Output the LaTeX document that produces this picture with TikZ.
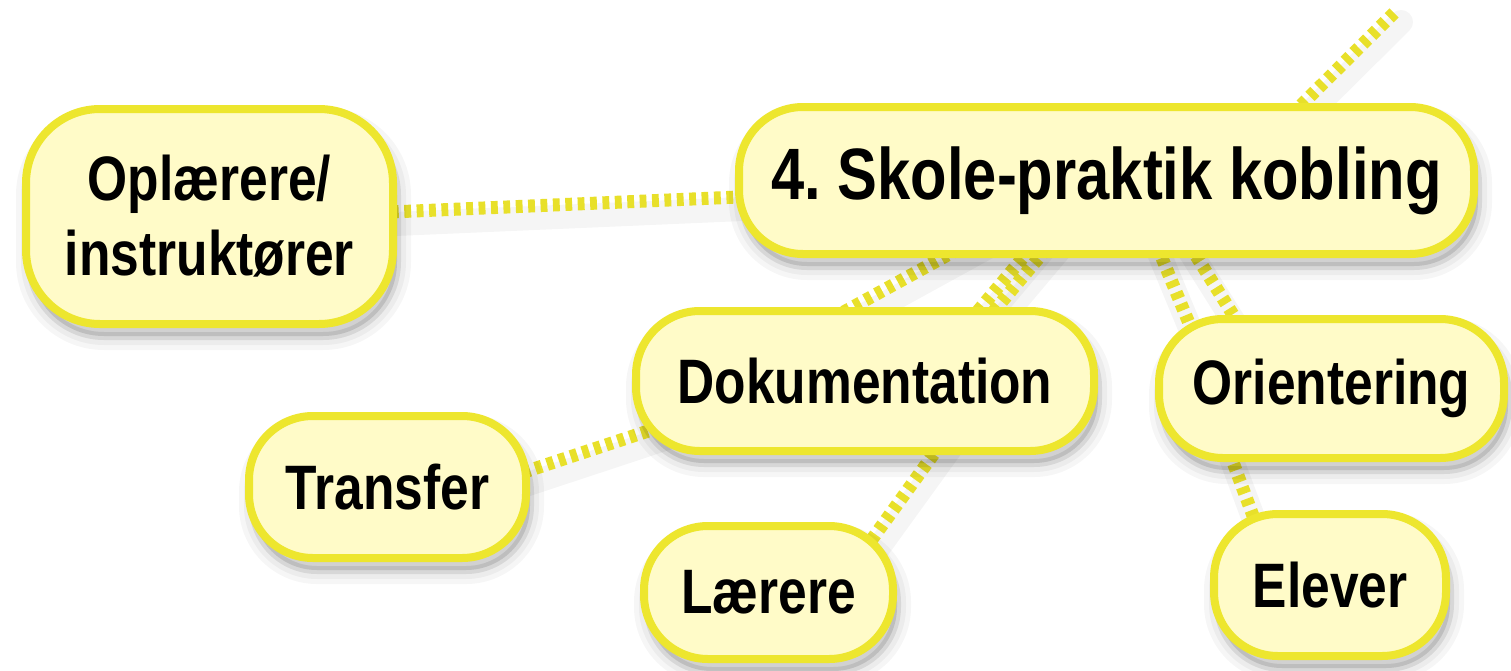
\documentclass[tikz,border=0pt]{standalone}
\usepackage{fontspec}
\newfontfamily\nb{Liberation Sans}[FakeStretch=0.82]
\usetikzlibrary{calc}
\definecolor{boxfill}{HTML}{FFFBC8}
\definecolor{boxline}{HTML}{EDE62E}
\definecolor{dotline}{HTML}{E8E02A}
\pgfdeclarelayer{bg}
\pgfsetlayers{bg,main}
\frenchspacing
\tikzset{
  shadowlayer/.style={preaction={draw=black, fill=black, opacity=#1,
      transform canvas={xshift=2pt,yshift=-6pt}}},
  bubble/.style={
    shadowlayer=0.035, preaction={line width=14pt, draw=black, opacity=0.035, transform canvas={xshift=2pt,yshift=-6pt}},
    preaction={line width=9pt, draw=black, opacity=0.04, transform canvas={xshift=2pt,yshift=-6pt}},
    preaction={line width=4pt, draw=black, opacity=0.05, transform canvas={xshift=2pt,yshift=-6pt}},
    preaction={fill=black, opacity=0.08, transform canvas={xshift=2pt,yshift=-6pt}},
    draw=boxline, fill=boxfill, line width=4pt, rounded corners=32pt,
    align=center, inner sep=0pt, font=\nb\bfseries\fontsize{31.4}{37.5}\selectfont},
  bigbubble/.style={bubble, font=\nb\bfseries\fontsize{36.4}{42}\selectfont},
  link/.style={draw=dotline, line width=6.5pt, dash pattern=on 3.4pt off 2.8pt},
  linkshadow/.style={draw=black, opacity=0.04, line width=12pt, line cap=round},
}
\begin{document}
\begin{tikzpicture}[x=0.5pt,y=-0.5pt]
\useasboundingbox (0,0) rectangle (1511,670);

\node[bubble, minimum width=183.5pt, minimum height=107.5pt, rounded corners=37pt] (opl) at (209.5,216.5) {Oplærere/\\instruktører};
\node[bigbubble, minimum width=367.5pt, minimum height=73.5pt] (skole) at (1106.5,180.5) {4. Skole-praktik kobling};
\node[bubble, minimum width=229pt, minimum height=70pt] (dok) at (865,381) {Dokumentation};
\node[bubble, minimum width=172.5pt, minimum height=69.5pt] (ori) at (1331.5,388.5) {Orientering};
\node[bubble, minimum width=138.5pt, minimum height=71pt] (trans) at (387.5,487) {Transfer};
\node[bubble, minimum width=124.5pt, minimum height=66.5pt] (laer) at (768.5,592.5) {Lærere};
\node[bubble, minimum width=116pt, minimum height=71pt] (elev) at (1330,585) {Elever};

\coordinate (top) at (1397,10);

\begin{pgfonlayer}{bg}
  \fill[white] (0,0) rectangle (1511,670);
  % soft shadows under connectors
  \foreach \a/\b in {
    {($(opl.center)+(170,-4)$)}/{($(skole.center)+(-356.5,16)$)},
    {($(skole.center)+(159.5,-40.5)$)}/{(top)},
    {($(dok.center)+(-54,-51)$)}/{($(skole.center)+(-122.5,54.5)$)},
    {($(dok.center)+(97,-51)$)}/{($(skole.center)+(-64.5,54.5)$)},
    {($(dok.center)+(113,-51)$)}/{($(skole.center)+(-48.5,54.5)$)},
    {($(skole.center)+(46,54.5)$)}/{($(ori.center)+(-133.5,-43.5)$)},
    {($(skole.center)+(76.5,54.5)$)}/{($(ori.center)+(-79.5,-43.5)$)},
    {($(trans.center)+(112.5,-7)$)}/{($(dok.center)+(-185,39.5)$)},
    {($(laer.center)+(88.5,-32.5)$)}/{($(dok.center)+(86,49)$)},
    {($(elev.center)+(-68,-45)$)}/{($(ori.center)+(-110.5,41.5)$)}}
  {\draw[linkshadow, transform canvas={xshift=2pt,yshift=-6pt}] \a -- \b;}
  % connectors
  \draw[link] ($(opl.center)+(170,-4)$) -- ($(skole.center)+(-356.5,16)$);
  \draw[link] ($(skole.center)+(159.5,-40.5)$) -- (top);
  \draw[link] ($(dok.center)+(-54,-51)$) -- ($(skole.center)+(-122.5,54.5)$);
  \draw[link] ($(dok.center)+(97,-51)$) -- ($(skole.center)+(-64.5,54.5)$);
  \draw[link] ($(dok.center)+(113,-51)$) -- ($(skole.center)+(-48.5,54.5)$);
  \draw[link] ($(skole.center)+(46,54.5)$) -- ($(ori.center)+(-133.5,-43.5)$);
  \draw[link] ($(skole.center)+(76.5,54.5)$) -- ($(ori.center)+(-79.5,-43.5)$);
  \draw[link] ($(trans.center)+(112.5,-7)$) -- ($(dok.center)+(-185,39.5)$);
  \draw[link] ($(laer.center)+(88.5,-32.5)$) -- ($(dok.center)+(86,49)$);
  \draw[link] ($(elev.center)+(-68,-45)$) -- ($(ori.center)+(-110.5,41.5)$);
\end{pgfonlayer}
\end{tikzpicture}
\end{document}
